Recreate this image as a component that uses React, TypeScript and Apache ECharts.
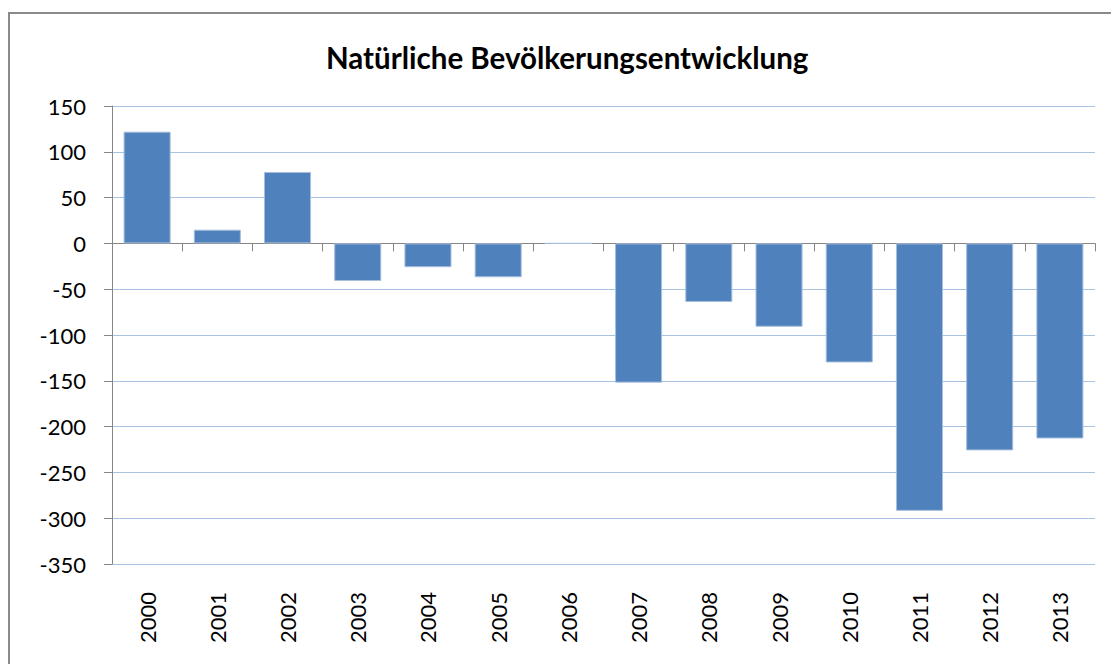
import React, { useEffect, useRef } from "react";
import * as echarts from "echarts";

const TITLE = "Natürliche Bevölkerungsentwicklung";
const years = ["2000", "2001", "2002", "2003", "2004", "2005", "2006", "2007", "2008", "2009", "2010", "2011", "2012", "2013"];
const values = [122, 15, 78, -41, -26, -37, 0, -152, -64, -91, -130, -292, -226, -213];
const yMin = -350;
const yMax = 150;
const yStep = 50;

export default function App() {
  const ref = useRef<HTMLDivElement>(null);
  useEffect(() => {
    if (!ref.current) return;
    const chart = echarts.init(ref.current, null, { renderer: "svg" });
    const font = "Lato, 'DejaVu Sans', sans-serif";
    chart.setOption({
      animation: false,
      backgroundColor: "#ffffff",
      title: {
        text: TITLE,
        left: 321,
        top: 37,
        textStyle: { fontFamily: font, fontWeight: "bold", fontSize: 29.5, color: "#000000" },
      },
      graphic: [
        {
          type: "rect",
          shape: { x: 9, y: 13, width: 1200, height: 700 },
          style: { fill: "none", stroke: "#8a8a8a", lineWidth: 2 },
          silent: true,
        },
      ],
      grid: { left: 112, right: 16, top: 106, bottom: 100, containLabel: false },
      xAxis: [
        {
          type: "category",
          data: years,
          position: "bottom",
          axisLine: { show: false, onZero: false },
          axisTick: { show: false },
          axisLabel: { rotate: 90, margin: 28, fontFamily: font, fontSize: 22, color: "#000000" },
        },
        {
          type: "category",
          data: years,
          position: "bottom",
          axisLine: { show: true, onZero: true, lineStyle: { color: "#868686", width: 1 } },
          axisTick: { show: true, length: 8, lineStyle: { color: "#868686" } },
          axisLabel: { show: false },
          splitLine: { show: false },
        },
      ],
      yAxis: {
        type: "value",
        min: yMin,
        max: yMax,
        interval: yStep,
        axisLine: { show: true, lineStyle: { color: "#868686", width: 1 } },
        axisTick: { show: true, length: 8, lineStyle: { color: "#868686" } },
        axisLabel: { margin: 26, fontFamily: font, fontSize: 22, color: "#000000" },
        splitLine: { show: true, lineStyle: { color: "#a9c2e2", width: 1 } },
      },
      series: [
        {
          type: "bar",
          xAxisIndex: 0,
          data: values,
          barCategoryGap: "33%",
          itemStyle: { color: "#4f81bd", borderColor: "#a7bfdc", borderWidth: 1 },
        },
      ],
    });
    return () => chart.dispose();
  }, []);
  return <div ref={ref} style={{ position: "absolute", left: 0, top: 0, width: 1111, height: 664 }} />;
}
